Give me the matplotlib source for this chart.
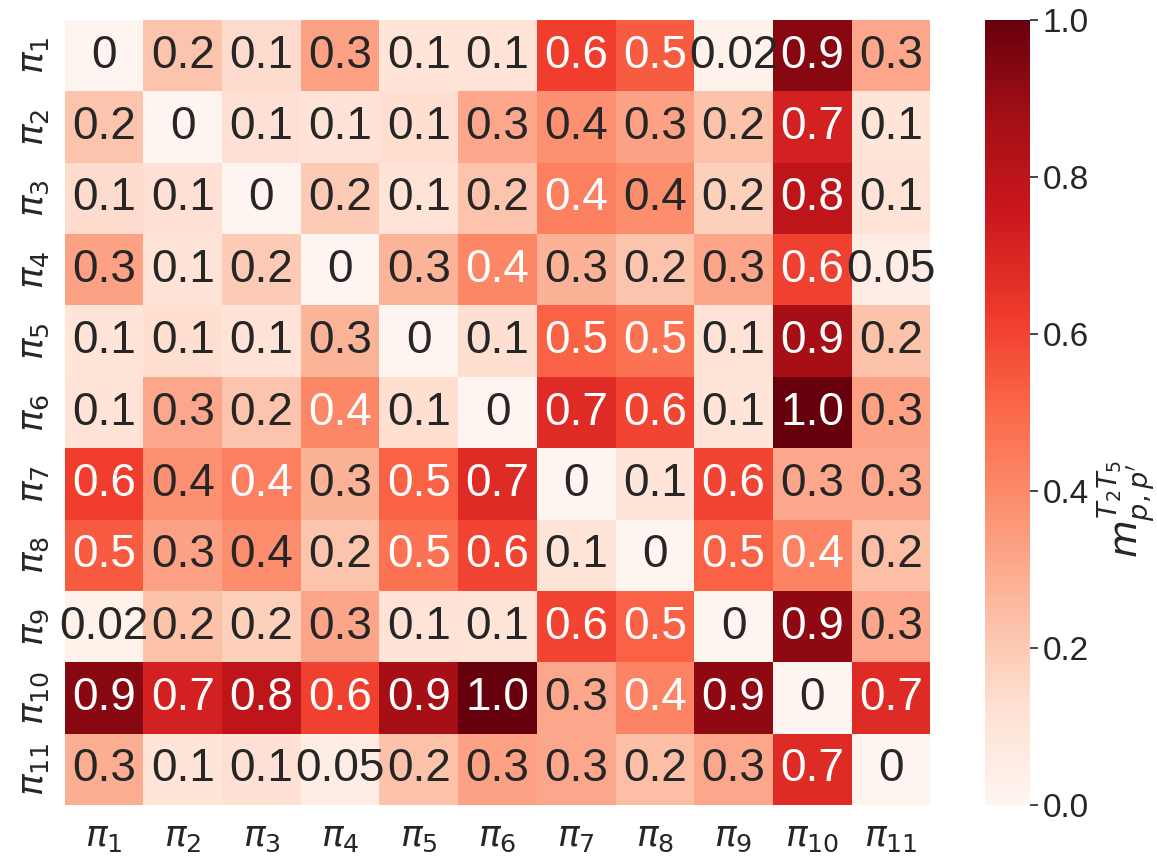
import matplotlib
matplotlib.use('Agg')
import matplotlib.pyplot as plt
import numpy as np
import seaborn as sns

# pairwise distances between the 11 patterns
names = [r'$\pi_{%d}$' % i for i in range(1, 12)]
m = np.array([
    [0.00, 0.22, 0.14, 0.33, 0.10, 0.11, 0.62, 0.54, 0.02, 0.93, 0.31],
    [0.22, 0.00, 0.12, 0.11, 0.13, 0.31, 0.38, 0.33, 0.23, 0.72, 0.10],
    [0.14, 0.12, 0.00, 0.20, 0.11, 0.22, 0.43, 0.39, 0.18, 0.79, 0.11],
    [0.33, 0.11, 0.20, 0.00, 0.27, 0.41, 0.28, 0.22, 0.32, 0.61, 0.05],
    [0.10, 0.13, 0.11, 0.27, 0.00, 0.13, 0.52, 0.47, 0.11, 0.87, 0.23],
    [0.11, 0.31, 0.22, 0.41, 0.13, 0.00, 0.68, 0.60, 0.10, 1.00, 0.33],
    [0.62, 0.38, 0.43, 0.28, 0.52, 0.68, 0.00, 0.10, 0.60, 0.31, 0.31],
    [0.54, 0.33, 0.39, 0.22, 0.47, 0.60, 0.10, 0.00, 0.52, 0.42, 0.24],
    [0.02, 0.23, 0.18, 0.32, 0.11, 0.10, 0.60, 0.52, 0.00, 0.92, 0.31],
    [0.93, 0.72, 0.79, 0.61, 0.87, 1.00, 0.31, 0.42, 0.92, 0.00, 0.68],
    [0.29, 0.10, 0.12, 0.05, 0.23, 0.33, 0.31, 0.24, 0.31, 0.68, 0.00],
])


def fmt(v):
    if v == 0:
        return '0'
    s = '%.1g' % v
    return '1.0' if s == '1' else s


labels = np.vectorize(fmt)(m)

sns.set_style('white')
plt.rcParams['font.family'] = ['Liberation Sans', 'DejaVu Sans']
plt.rcParams['text.color'] = '#262626'

fig = plt.figure(figsize=(11.57, 8.63), dpi=100)
ax = fig.add_axes([0.056, 0.067, 0.748, 0.910])
cax = fig.add_axes([0.851, 0.067, 0.039, 0.910])

sns.heatmap(m, ax=ax, cbar_ax=cax, cmap='Reds', vmin=0, vmax=1,
            annot=labels, fmt='', annot_kws={'size': 33},
            xticklabels=names, yticklabels=names, linewidths=0)

ax.tick_params(axis='both', length=0, labelsize=26, colors='#262626', pad=10)
ax.set_yticklabels(names, rotation=90, va='center')
ax.set_xticklabels(names, rotation=0)

cax.tick_params(labelsize=24, length=6, width=1.2, colors='#262626')
cax.set_yticks([0, 0.2, 0.4, 0.6, 0.8, 1.0])
cax.set_yticklabels(['0.0', '0.2', '0.4', '0.6', '0.8', '1.0'])
fig.text(0.973, 0.41, r"$m^{T_2T_5}_{p,p'}$", fontsize=28, rotation=90,
         ha='center', va='center', color='#262626')

plt.savefig('out.png', dpi=100)
